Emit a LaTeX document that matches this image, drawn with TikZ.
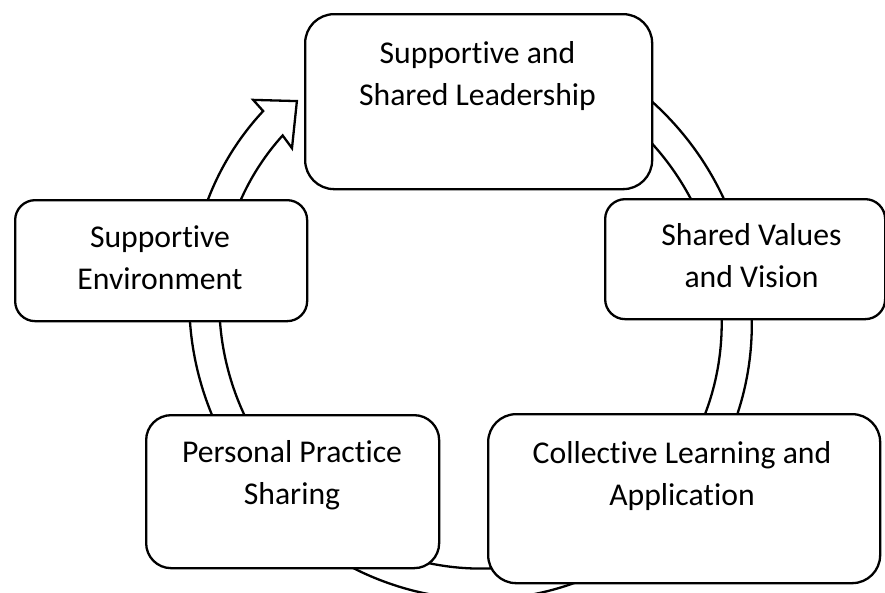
\documentclass[tikz,border=0pt]{standalone}
\usepackage{fontspec}
\setmainfont{Carlito}[Ligatures={NoCommon}]
\begin{document}
\begin{tikzpicture}[x=1pt,y=1pt,
  ring/.style={draw=black, line width=2.3pt, fill=white, line join=miter},
  boxnode/.style={draw=black, line width=2.3pt, fill=white, rounded corners=#1,
    inner sep=0pt, anchor=north west},
  lbl/.style={anchor=base, inner sep=0pt, font=\fontsize{31.7}{42}\selectfont}
]
\useasboundingbox (0,0) rectangle (885,-592);
% circular block arrow
\begin{scope}[shift={(470.5,-312.8)}, xslant=-0.0394, yscale=1.019]
  \draw[ring] (105:281pt) arc[start angle=105, end angle=-224.8, radius=281pt]
    -- (135:295.5pt) -- (128.5:265.5pt) -- (136.8:236pt) -- (136.1:251pt)
    arc[start angle=-223.9, end angle=105, radius=251pt] -- cycle;
\end{scope}
% boxes
\node[boxnode=29pt, minimum width=347pt, minimum height=175pt] (b1) at (304,-13) {};
\node[boxnode=20pt, minimum width=280pt, minimum height=120pt] (b2) at (604,-198) {};
\node[boxnode=28pt, minimum width=392pt, minimum height=169pt] (b3) at (487,-413) {};
\node[boxnode=25pt, minimum width=293pt, minimum height=153pt] (b4) at (145,-414) {};
\node[boxnode=20pt, minimum width=292pt, minimum height=121pt] (b5) at (14,-199) {};
% labels
\node[lbl] (t1) at (477.5,-63) {\begin{tabular}[t]{@{}c@{}}Supportive and\\Shared Leadership\end{tabular}};
\node[lbl] (t2) at (751.5,-245) {\begin{tabular}[t]{@{}c@{}}Shared Values\\and Vision\end{tabular}};
\node[lbl] (t3) at (682,-463) {\begin{tabular}[t]{@{}c@{}}Collective Learning and\\Application\end{tabular}};
\node[lbl] (t4) at (292,-462) {\begin{tabular}[t]{@{}c@{}}Personal Practice\\Sharing\end{tabular}};
\node[lbl] (t5) at (160,-247) {\begin{tabular}[t]{@{}c@{}}Supportive\\Environment\end{tabular}};
\end{tikzpicture}
\end{document}
